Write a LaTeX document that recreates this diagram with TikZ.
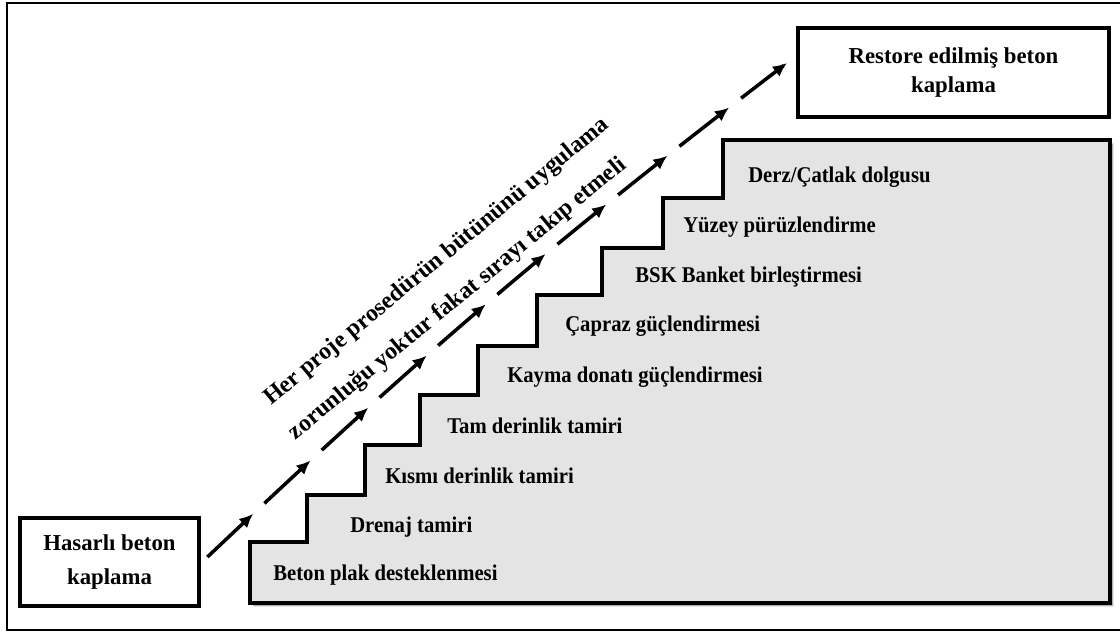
\documentclass[tikz,border=0pt]{standalone}
\usepackage{fontspec}
\setmainfont{Liberation Serif}
\newfontfamily\condfont[FakeStretch=0.92]{Liberation Serif}
\usetikzlibrary{arrows.meta,decorations.markings,shadows,calc}
\definecolor{stairgray}{RGB}{228,228,228}
\tikzset{
  endbox/.style={rectangle, draw, line width=3.4pt, align=center, inner sep=0pt},
  stairs/.style={draw, line width=3.4pt, fill=stairgray, line join=miter,
    drop shadow={shadow xshift=2.4pt, shadow yshift=-2.4pt, fill=black!30, opacity=1}},
  steplabel/.style={anchor=west, inner sep=0pt, text height=11pt, text depth=3pt,
    font=\condfont\bfseries\fontsize{16}{18}\selectfont},
  notelabel/.style={inner sep=0pt, rotate=39.5, font=\bfseries\fontsize{17}{20}\selectfont},
  chain/.style={line width=2.5pt, dash pattern=on 38pt off 17.64pt,
    postaction={decorate, decoration={markings,
      mark=between positions 44.8pt and 520pt step 55.64pt with {\arrow{Latex[length=10pt,width=9pt]}},
      mark=at position 0.999 with {\arrow{Latex[length=10pt,width=9pt]}}}}}
}
\begin{document}
\begin{tikzpicture}[x=0.025cm, y=-0.025cm]
\useasboundingbox (0,0) rectangle (1120,632);
% frame
\draw[line width=1.4pt] (7,3) rectangle (1124,630);

% stairs
\draw[stairs] (250,603) |- (307,542) |- (365,495) |- (420,445) |- (478,395)
  |- (537,346) |- (602,295) |- (663,248) |- (723,198) |- (1110,140)
  -- (1110,603) -- cycle;

% start and end
\node[endbox, minimum width=4.475cm, minimum height=2.2cm,
  font=\bfseries\fontsize{16.2}{24}\selectfont] (hasar) at (109.5,562) {Hasarlı beton\\kaplama};
\node[endbox, minimum width=7.775cm, minimum height=2.225cm,
  font=\bfseries\fontsize{16.2}{21}\selectfont] (restore) at (953.5,72.5) {Restore edilmiş beton\\kaplama};

% steps
\node[steplabel] (beton) at (273,575) {Beton plak desteklenmesi};
\node[steplabel] (drenaj) at (350,527) {Drenaj tamiri};
\node[steplabel] (kismi) at (385,478) {Kısmı derinlik tamiri};
\node[steplabel] (tam) at (447,428) {Tam derinlik tamiri};
\node[steplabel] (kayma) at (507,377) {Kayma donatı güçlendirmesi};
\node[steplabel] (capraz) at (565,326) {Çapraz güçlendirmesi};
\node[steplabel] (bsk) at (635,277) {BSK Banket birleştirmesi};
\node[steplabel] (yuzey) at (683,227) {Yüzey pürüzlendirme};
\node[steplabel] (derz) at (748,177) {Derz/Çatlak dolgusu};

% note
\node[notelabel] (note1) at (437,262) {Her proje prosedürün bütününü uygulama};
\node[notelabel] (note2) at (458,299) {zorunluğu yoktur fakat sırayı takıp etmeli};

% dashed arrows
\coordinate (cstart) at ($(hasar.east)+(6,-5)$);
\coordinate (cend) at ($(restore.west)+(-8,-10)$);
\draw[chain] (cstart) to[bend left=3] (cend);
\end{tikzpicture}
\end{document}
